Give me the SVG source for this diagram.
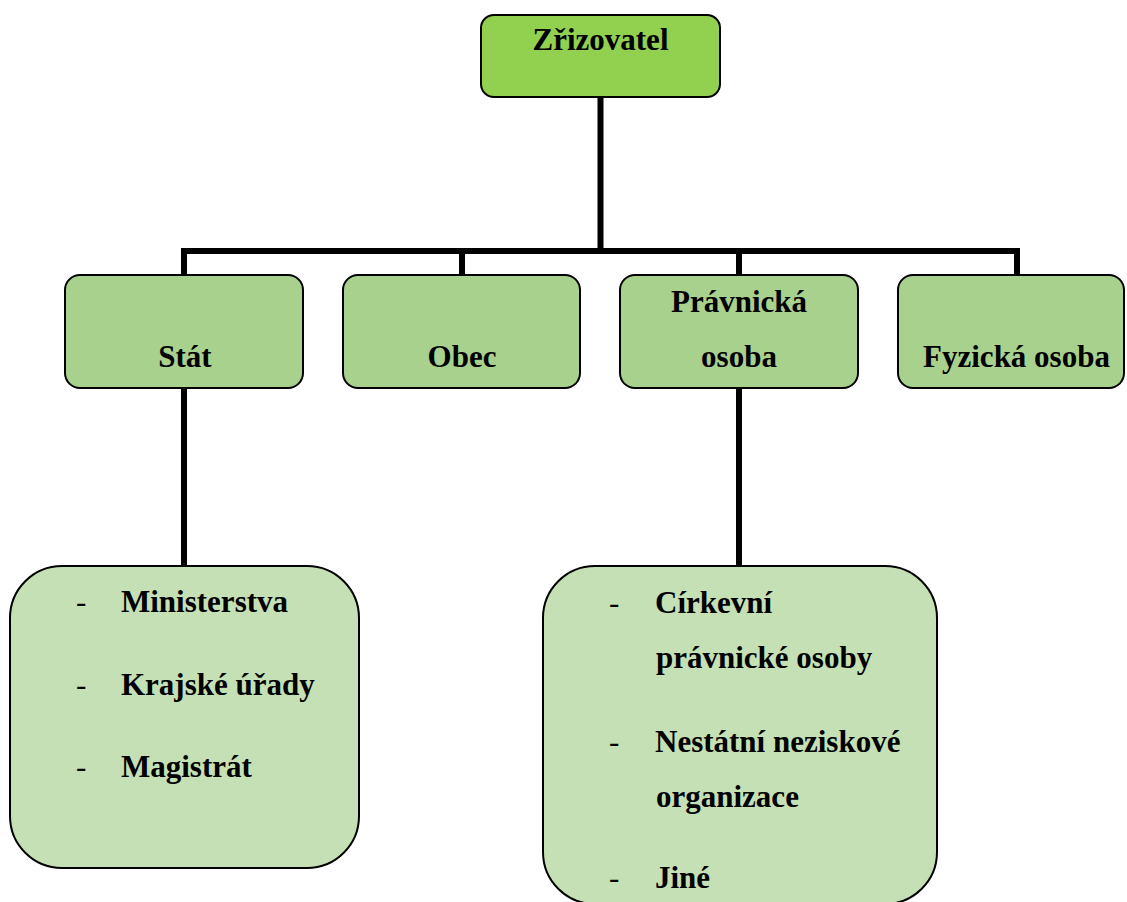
<svg xmlns="http://www.w3.org/2000/svg" width="1127" height="902" viewBox="0 0 1127 902">
  <style>
    .box { stroke: #000; stroke-width: 2; }
    .root { fill: #92D050; }
    .mid { fill: #A9D18E; }
    .leaf { fill: #C5E0B4; }
    .lbl { font-family: 'Liberation Serif', 'DejaVu Serif', 'Times New Roman', serif; font-weight: 700; font-size: 31px; fill: #000; }
    .dash { font-family: 'Liberation Serif', 'DejaVu Serif', 'Times New Roman', serif; font-weight: 400; font-size: 31px; fill: #000; }
    .mid-lbl { text-anchor: middle; }
    .wire { fill: none; stroke: #000; stroke-width: 6; stroke-linecap: butt; }
  </style>
  <rect width="1127" height="902" fill="#fff"/>

  <!-- tree connectors -->
  <g id="connectors">
    <path class="wire" d="M600.5 97 V251"/>
    <path class="wire" d="M184 275 V251 H1017 V275"/>
    <path class="wire" d="M462 251 V275"/>
    <path class="wire" d="M739 251 V275"/>
    <path class="wire" d="M184 388 V566"/>
    <path class="wire" d="M739 388 V566"/>
  </g>

  <g id="zrizovatel">
    <rect class="box root" x="481" y="15" width="239" height="82" rx="13"/>
    <text class="lbl mid-lbl" x="600.5" y="50" font-family="Liberation Serif, serif">Zřizovatel</text>
  </g>

  <g id="stat">
    <rect class="box mid" x="65" y="275" width="238" height="113" rx="15"/>
    <text class="lbl mid-lbl" x="185" y="367">Stát</text>
  </g>

  <g id="obec">
    <rect class="box mid" x="343" y="275" width="237" height="113" rx="15"/>
    <text class="lbl mid-lbl" x="462" y="367">Obec</text>
  </g>

  <g id="pravnicka-osoba">
    <rect class="box mid" x="620" y="275" width="238" height="113" rx="15"/>
    <text class="lbl mid-lbl" x="739" y="312">Právnická</text>
    <text class="lbl mid-lbl" x="739" y="367">osoba</text>
  </g>

  <g id="fyzicka-osoba">
    <rect class="box mid" x="898" y="275" width="226" height="113" rx="15"/>
    <text class="lbl mid-lbl" x="1016.5" y="367">Fyzická osoba</text>
  </g>

  <g id="stat-seznam">
    <rect class="box leaf" x="10" y="566" width="349" height="302" rx="52"/>
    <text class="dash" x="76" y="612">-</text>
    <text class="lbl" x="121" y="612">Ministerstva</text>
    <text class="dash" x="76" y="695">-</text>
    <text class="lbl" x="121" y="695">Krajské úřady</text>
    <text class="dash" x="76" y="777">-</text>
    <text class="lbl" x="121" y="777">Magistrát</text>
  </g>

  <g id="pravnicka-seznam">
    <rect class="box leaf" x="543" y="566" width="394" height="338" rx="52"/>
    <text class="dash" x="609" y="613">-</text>
    <text class="lbl" x="655" y="613">Církevní</text>
    <text class="lbl" x="656" y="668">právnické osoby</text>
    <text class="dash" x="609" y="752">-</text>
    <text class="lbl" x="655" y="752">Nestátní neziskové</text>
    <text class="lbl" x="656" y="807">organizace</text>
    <text class="dash" x="609" y="888">-</text>
    <text class="lbl" x="655" y="888">Jiné</text>
  </g>
</svg>
